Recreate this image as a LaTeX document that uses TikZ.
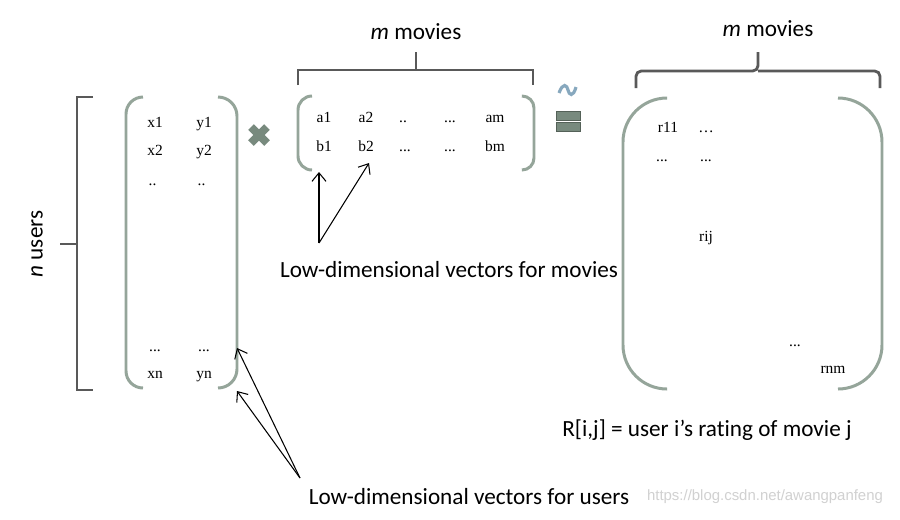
\documentclass[tikz,border=0pt]{standalone}
\usepackage{fontspec}
\setmainfont{Carlito}[Ligatures=NoCommon]
\newfontfamily\entryfont{Liberation Serif}
\newfontfamily\markfont{Liberation Sans}
\usepackage{tikz}
\usetikzlibrary{arrows.meta}

\definecolor{brk}{RGB}{89,89,89}
\definecolor{parcol}{RGB}{149,165,154}
\definecolor{opcol}{RGB}{120,138,126}
\definecolor{tildecol}{RGB}{135,168,190}

\tikzset{
  label/.style={font=\fontsize{13.2}{15}\selectfont},
  entry/.style={font=\entryfont\fontsize{8.8}{10}\selectfont, text height=1.6ex, text depth=0.3ex},
  paren/.style={parcol, line width=1.7pt},
  bracket/.style={brk, line width=1.6pt},
  pointer/.style={-{Straight Barb[length=1.7mm, width=2.8mm]}, line width=0.6pt}
}

\begin{document}
\begin{tikzpicture}
    \useasboundingbox[fill=white] (0,0) rectangle (18,-10.38);

    % User matrix
    \node[label, rotate=90] (nusers) at (0.74,-4.88) {\textit{n} users};
    \draw[bracket] (1.86,-1.94) -- (1.54,-1.94) -- (1.54,-7.8) -- (1.86,-7.8);
    \draw[bracket] (1.2,-4.88) -- (1.54,-4.88);
    \draw[paren, rounded corners=0.34cm] (2.86,-1.94) -- (2.52,-1.94) -- (2.52,-7.76) -- (2.86,-7.76);
    \draw[paren, rounded corners=0.38cm] (4.36,-1.94) -- (4.74,-1.94) -- (4.74,-7.76) -- (4.36,-7.76);
    \node[entry] (x1) at (3.1,-2.44) {x1};
    \node[entry] (y1) at (4.08,-2.44) {y1};
    \node[entry] (x2) at (3.1,-3.0) {x2};
    \node[entry] (y2) at (4.08,-3.0) {y2};
    \node[entry] (x3) at (3.05,-3.6) {..};
    \node[entry] (y3) at (4.03,-3.6) {..};
    \node[entry] (x4) at (3.1,-6.92) {...};
    \node[entry] (y4) at (4.08,-6.92) {...};
    \node[entry] (xn) at (3.1,-7.46) {xn};
    \node[entry] (yn) at (4.08,-7.46) {yn};

    % Times
    \draw[opcol, line width=4.5pt] (5.02,-2.54) -- (5.34,-2.86);
    \draw[opcol, line width=4.5pt] (5.02,-2.86) -- (5.34,-2.54);

    % Movie matrix
    \node[label] (mtop) at (8.32,-0.64) {\textit{m} movies};
    \draw[bracket] (5.96,-1.7) -- (5.96,-1.4) -- (10.66,-1.4) -- (10.66,-1.7);
    \draw[bracket] (8.32,-1.04) -- (8.32,-1.4);
    \draw[paren, rounded corners=0.28cm] (6.24,-1.92) -- (5.96,-1.92) -- (5.96,-3.4) -- (6.24,-3.4);
    \draw[paren, rounded corners=0.24cm] (10.44,-1.92) -- (10.68,-1.92) -- (10.68,-3.4) -- (10.44,-3.4);
    \node[entry] (a1) at (6.48,-2.34) {a1};
    \node[entry] (a2) at (7.32,-2.34) {a2};
    \node[entry] (a3) at (8.06,-2.34) {..};
    \node[entry] (a4) at (9.0,-2.34) {...};
    \node[entry] (am) at (9.9,-2.34) {am};
    \node[entry] (b1) at (6.48,-2.92) {b1};
    \node[entry] (b2) at (7.32,-2.92) {b2};
    \node[entry] (b3) at (8.1,-2.92) {...};
    \node[entry] (b4) at (9.0,-2.92) {...};
    \node[entry] (bm) at (9.9,-2.92) {bm};

    % Approx equal
    \draw[tildecol, line width=1.8pt] (11.18,-1.86) .. controls (11.26,-1.64) and (11.34,-1.7) .. (11.36,-1.8)
        .. controls (11.38,-1.9) and (11.46,-1.96) .. (11.52,-1.74);
    \draw[opcol!70!black, fill=opcol, line width=0.4pt] (11.12,-2.22) rectangle (11.6,-2.4);
    \draw[opcol!70!black, fill=opcol, line width=0.4pt] (11.12,-2.44) rectangle (11.6,-2.62);

    % Rating matrix
    \node[label] (mtop2) at (15.36,-0.58) {\textit{m} movies};
    \draw[bracket, rounded corners=3pt] (12.72,-1.76) -- (12.72,-1.42) -- (15.16,-1.42) -- (15.16,-1.04);
    \draw[bracket, rounded corners=3pt] (17.6,-1.76) -- (17.6,-1.42) -- (15.16,-1.42);
    \draw[paren, rounded corners=0.88cm] (13.34,-1.96) -- (12.46,-1.96) -- (12.46,-7.78) -- (13.34,-7.78);
    \draw[paren, rounded corners=0.88cm] (16.76,-1.96) -- (17.64,-1.96) -- (17.64,-7.78) -- (16.76,-7.78);
    \node[entry] (r11) at (13.36,-2.54) {r11};
    \node[entry] (r12) at (14.12,-2.54) {\ldots};
    \node[entry] (r21) at (13.24,-3.12) {...};
    \node[entry] (r22) at (14.12,-3.12) {...};
    \node[entry] (rij) at (14.12,-4.72) {rij};
    \node[entry] (rdots) at (15.9,-6.82) {...};
    \node[entry] (rnm) at (16.66,-7.36) {rnm};
    \node[label] (rdef) at (14.14,-8.6) {R[i,j] = user i’s rating of movie j};

    % Pointers
    \node[label] (movvec) at (8.98,-5.4) {Low-dimensional vectors for movies};
    \coordinate (movfoot) at (6.38,-4.86);
    \coordinate (movtipa) at (6.38,-3.44);
    \coordinate (movtipb) at (7.38,-3.26);
    \draw[pointer] (movfoot) -- (movtipa);
    \draw[pointer] (movfoot) -- (movtipb);

    \node[label] (usevec) at (9.38,-9.94) {Low-dimensional vectors for users};
    \coordinate (usefoot) at (6.0,-9.56);
    \coordinate (usetipa) at (4.74,-6.96);
    \coordinate (usetipb) at (4.74,-7.82);
    \draw[pointer] (usefoot) -- (usetipa);
    \draw[pointer] (usefoot) -- (usetipb);

    \node[font=\markfont\fontsize{8.5}{10}\selectfont, text=black!18] (wmark) at (15.3,-9.94) {https://blog.csdn.net/awangpanfeng};
\end{tikzpicture}
\end{document}
